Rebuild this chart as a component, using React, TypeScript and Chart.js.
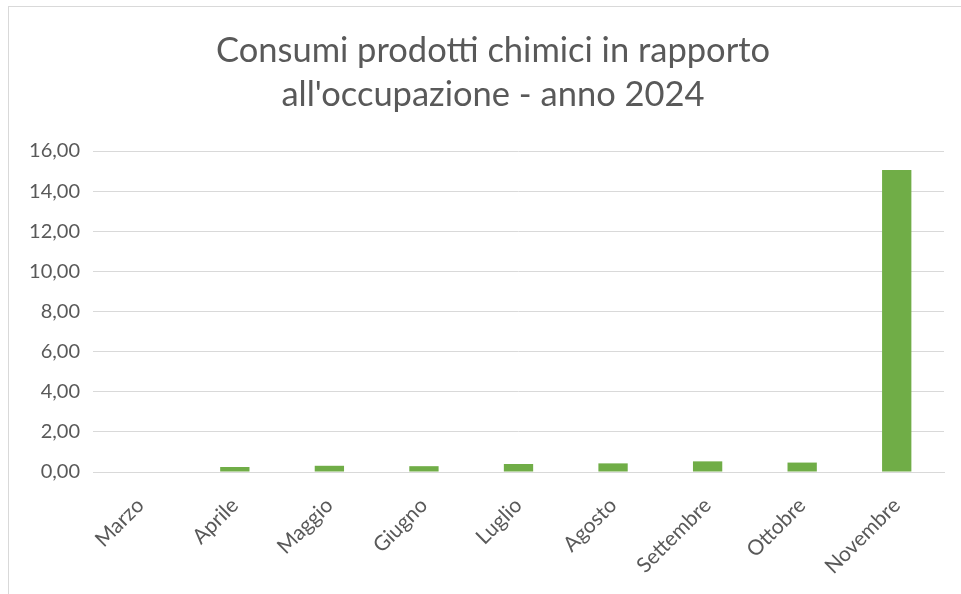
import React, { useEffect, useRef } from "react";
import { Chart, registerables } from "chart.js";

Chart.register(...registerables);

const categories = ["Marzo", "Aprile", "Maggio", "Giugno", "Luglio", "Agosto", "Settembre", "Ottobre", "Novembre"];
const values = [0, 0.25, 0.31, 0.29, 0.4, 0.43, 0.53, 0.47, 15.05];
const titleLines = ["Consumi prodotti chimici in rapporto", "all'occupazione - anno 2024"];

const FONT = "Lato, 'Open Sans', sans-serif";
const TEXT = "#595959";
const TITLE_SIZE = 34.5;
const TITLE_LH = 44;
const TITLE_TOP = 29;

const centeredTitle = {
  id: "centeredTitle",
  afterDraw(chart: any) {
    const ctx = chart.ctx;
    ctx.save();
    ctx.fillStyle = TEXT;
    ctx.font = `normal ${TITLE_SIZE}px ${FONT}`;
    ctx.textAlign = "center";
    ctx.textBaseline = "middle";
    titleLines.forEach((line, i) => {
      ctx.fillText(line, 493, TITLE_TOP + TITLE_LH / 2 + i * TITLE_LH);
    });
    ctx.restore();
  },
};

export default function App() {
  const ref = useRef<HTMLCanvasElement>(null);
  useEffect(() => {
    if (!ref.current) return;
    const chart = new Chart(ref.current, {
      type: "bar",
      data: {
        labels: categories,
        datasets: [
          {
            data: values,
            backgroundColor: "#70ad47",
            borderWidth: 0,
            barPercentage: 0.31,
            categoryPercentage: 1,
          },
        ],
      },
      plugins: [centeredTitle],
      options: {
        animation: false,
        responsive: false,
        maintainAspectRatio: false,
        layout: { padding: { left: 0, right: 42, top: 0, bottom: 0 } },
        plugins: {
          legend: { display: false },
          tooltip: { enabled: false },
          title: {
            display: true,
            text: titleLines,
            color: "rgba(0,0,0,0)",
            font: { family: FONT, size: TITLE_SIZE, weight: "normal", lineHeight: `${TITLE_LH}px` },
            padding: { top: TITLE_TOP, bottom: 34 },
          },
        },
        scales: {
          x: {
            grid: { display: false },
            border: { display: true, color: "#d9d9d9", width: 1 },
            ticks: {
              color: TEXT,
              font: { family: FONT, size: 21 },
              maxRotation: 45,
              minRotation: 45,
              padding: 13,
            },
            afterFit: (axis: any) => {
              axis.height = 122;
            },
          },
          y: {
            min: 0,
            max: 16,
            grid: { color: "#d9d9d9", drawTicks: false },
            border: { display: false },
            ticks: {
              stepSize: 2,
              color: TEXT,
              padding: 13,
              font: { family: FONT, size: 20 },
              callback: (v: any) => Number(v).toFixed(2).replace(".", ","),
            },
            afterFit: (axis: any) => {
              axis.width = 93;
            },
          },
        },
      },
    });
    return () => chart.destroy();
  }, []);
  return (
    <div style={{ position: "fixed", left: 0, top: 0, width: 961, height: 594, overflow: "hidden", background: "#fff" }}>
      <div
        style={{
          position: "absolute",
          left: 8,
          top: 6,
          width: 1000,
          height: 1000,
          border: "1px solid #d9d9d9",
        }}
      />
      <canvas ref={ref} width={986} height={594} style={{ position: "absolute", left: 0, top: 0 }} />
    </div>
  );
}
